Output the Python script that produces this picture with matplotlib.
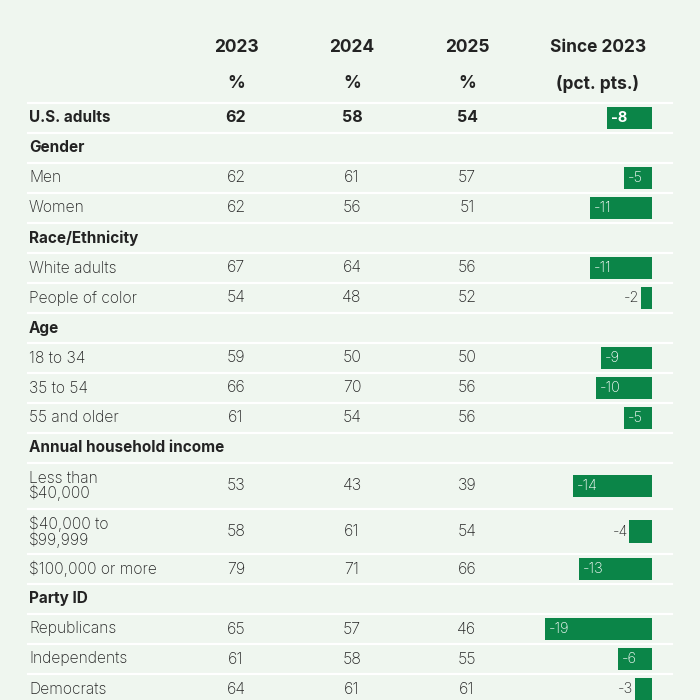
import matplotlib.pyplot as plt
from matplotlib import font_manager

# table data
labels = ['U.S. adults', 'Gender', 'Men', 'Women', 'Race/Ethnicity', 'White adults',
          'People of color', 'Age', '18 to 34', '35 to 54', '55 and older',
          'Annual household income', 'Less than\n$40,000', '$40,000 to\n$99,999',
          '$100,000 or more', 'Party ID', 'Republicans', 'Independents', 'Democrats']
is_header = [False, True, False, False, True, False, False, True, False, False, False,
             True, False, False, False, True, False, False, False]
v2023 = [62, None, 62, 62, None, 67, 54, None, 59, 66, 61, None, 53, 58, 79, None, 65, 61, 64]
v2024 = [58, None, 61, 56, None, 64, 48, None, 50, 70, 54, None, 43, 61, 71, None, 57, 58, 61]
v2025 = [54, None, 57, 51, None, 56, 52, None, 50, 56, 56, None, 39, 54, 66, None, 46, 55, 61]
change = [-8, None, -5, -11, None, -11, -2, None, -9, -10, -5, None, -14, -4, -13, None, -19, -6, -3]
col_titles = ['2023', '2024', '2025', 'Since 2023']
col_units = ['%', '%', '%', '(pct. pts.)']

BG = '#eff6ef'
GREEN = '#0b8548'
INK = '#232323'

names = {f.name for f in font_manager.fontManager.ttflist}
fam = 'Inter' if 'Inter' in names else 'DejaVu Sans'
plt.rcParams['font.family'] = [fam, 'DejaVu Sans']

fig = plt.figure(figsize=(7, 7), dpi=100, facecolor=BG)
ax = fig.add_axes([0, 0, 1, 1])
ax.set_xlim(0, 700)
ax.set_ylim(700, 0)
ax.axis('off')
ax.set_facecolor(BG)

# row heights (pixels)
heights = [30] * len(labels)
heights[12] = 46
heights[13] = 45
top = 103
ys = []
seps = [top]
y = top
for h in heights:
    ys.append(y + h / 2)
    y += h
    seps.append(y)

for s in seps:
    ax.plot([28, 672], [s, s], color='white', lw=1.6, zorder=1)

col_x = [236, 352, 467, 598]
for cx, t, u in zip(col_x, col_titles, col_units):
    ax.text(cx, 48, t, ha='center', va='center', fontsize=12.5, fontweight='bold', color=INK)
    ax.text(cx, 84, u, ha='center', va='center', fontsize=12.5, fontweight='bold', color=INK)

for i, lab in enumerate(labels):
    bold = is_header[i] or i == 0
    ax.text(29, ys[i], lab, ha='left', va='center', fontsize=11.0 if bold else 11.3,
            fontweight='bold' if bold else 'light', color=INK, linespacing=0.95)
    if v2023[i] is None:
        continue
    for cx, vals in zip(col_x[:3], [v2023, v2024, v2025]):
        ax.text(cx, ys[i], str(vals[i]), ha='center', va='center', fontsize=11.5,
                fontweight='bold' if i == 0 else 'light', color=INK)

# bar column: its own axes in percentage points, zero at the right edge
x0, x1 = 530, 652
bx = fig.add_axes([x0 / 700, 0, (x1 - x0) / 700, 1])
bx.set_xlim(-(x1 - x0) / 5.63, 0)
bx.set_ylim(700, 0)
bx.axis('off')
bx.patch.set_alpha(0)

for i, c in enumerate(change):
    if c is None:
        continue
    bx.barh(ys[i], c, height=22.5, left=0, color=GREEN, zorder=2)
    w = i == 0
    if c <= -5:
        bx.text(c + 0.7, ys[i], str(c), ha='left', va='center', fontsize=10.5,
                color='white', fontweight='bold' if w else 'light', zorder=3)
    else:
        bx.text(c - 0.3, ys[i], str(c), ha='right', va='center', fontsize=10.5,
                color=INK, fontweight='light', zorder=3)

fig.savefig('out.png', dpi=100, facecolor=BG)
